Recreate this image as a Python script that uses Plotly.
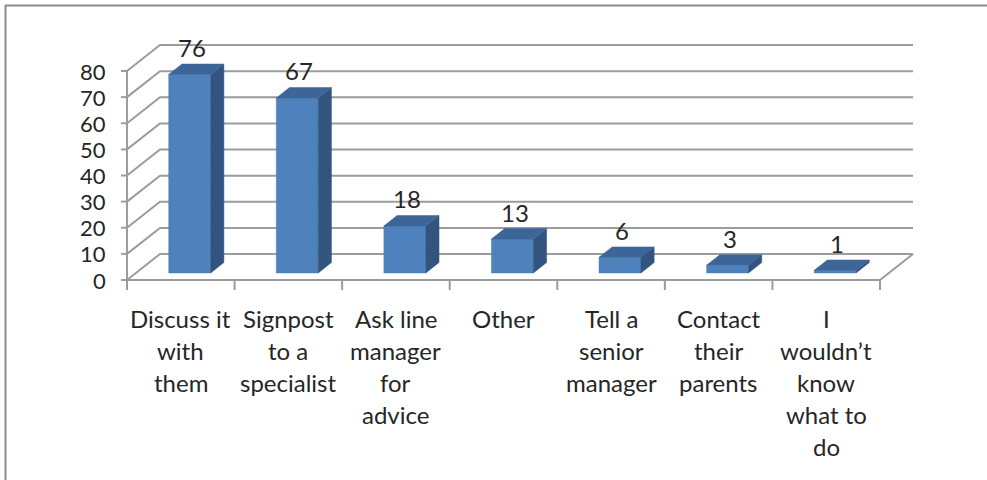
import plotly.graph_objects as go

# ---- data ----
categories = [
    ["Discuss it", "with", "them"],
    ["Signpost", "to a", "specialist"],
    ["Ask line", "manager", "for", "advice"],
    ["Other"],
    ["Tell a", "senior", "manager"],
    ["Contact", "their", "parents"],
    ["I", "wouldn\u2019t", "know", "what to", "do"],
]
values = [76, 67, 18, 13, 6, 3, 1]
y_ticks = [0, 10, 20, 30, 40, 50, 60, 70, 80]

# ---- geometry / style ----
W, H = 987, 480
PX_X0, PX_X1 = 127, 880        # pixel x of category -0.5 and n-0.5
PX_Y0, PX_Y80 = 280, 71        # pixel y of 0 and 80 (front plane)
n = len(values)
sx = (PX_X1 - PX_X0) / n
sy = (PX_Y0 - PX_Y80) / 80.0
x_lo = -0.5 - PX_X0 / sx
x_hi = -0.5 + (W - PX_X0) / sx
y_hi = PX_Y0 / sy
y_lo = -(H - PX_Y0) / sy

DX = 33 / sx          # depth offset in category units
DY = 26 / sy          # depth offset in value units
F0, F1 = 0.27, 0.67   # bar depth fractions
BW = 0.39             # bar width
GRID = "#9C9C9C"
FRONT = "#4F81BD"
SIDE = "#32547F"
TOP = "#3C6598"
FONT = "Lato"
FS = 24
FS_TICK = 22
TXT = "#262626"

fig = go.Figure()

def line(xs, ys, color=GRID, width=2):
    fig.add_trace(go.Scatter(x=xs, y=ys, mode="lines", line=dict(color=color, width=width),
                             hoverinfo="skip", showlegend=False))

def poly(xs, ys, color):
    fig.add_trace(go.Scatter(x=xs + [xs[0]], y=ys + [ys[0]], mode="lines", fill="toself",
                             fillcolor=color, line=dict(color=color, width=0.5),
                             hoverinfo="skip", showlegend=False))

left = -0.5
right = n - 0.5
# gridlines (left wall + back wall)
for v in y_ticks:
    line([left, left + DX, right + DX], [v, v + DY, v + DY])
# floor
line([left, right, right + DX], [0, 0, DY])
# front vertical axis
line([left, left], [0, 80])
# y ticks
for v in y_ticks:
    line([left - 6 / sx, left], [v, v])
# x ticks
for i in range(n + 1):
    xb = left + i
    line([xb, xb], [0, -10 / sy])

# bars
for i, v in enumerate(values):
    xl = i - BW / 2 + F0 * DX
    xr = i + BW / 2 + F0 * DX
    yb = F0 * DY
    yt = v + F0 * DY
    ddx = (F1 - F0) * DX
    ddy = (F1 - F0) * DY
    poly([xl, xr, xr, xl], [yb, yb, yt, yt], FRONT)
    poly([xr, xr + ddx, xr + ddx, xr], [yb, yb + ddy, yt + ddy, yt], SIDE)
    poly([xl, xr, xr + ddx, xl + ddx], [yt, yt, yt + ddy, yt + ddy], TOP)

annotations = []
# data labels
for i, v in enumerate(values):
    annotations.append(dict(x=i + F0 * DX + 0.02, y=v + F0 * DY + 27 / sy, text=str(v),
                            showarrow=False, xanchor="center", yanchor="middle",
                            font=dict(family=FONT, size=FS, color=TXT)))
# y tick labels
for v in y_ticks:
    annotations.append(dict(x=left - 19 / sx, y=v, text=str(v), showarrow=False,
                            xanchor="right", yanchor="middle",
                            font=dict(family=FONT, size=FS_TICK, color=TXT)))
# category labels (one annotation per line)
for i, lines in enumerate(categories):
    for k, t in enumerate(lines):
        annotations.append(dict(x=i, y=-(38 + 32 * k) / sy, text=t, showarrow=False,
                                xanchor="center", yanchor="middle",
                                font=dict(family=FONT, size=FS, color=TXT)))

# outer border (left + top)
shapes = [
    dict(type="line", xref="paper", yref="paper", x0=5.5 / W, x1=5.5 / W, y0=0, y1=1 - 5 / H,
         line=dict(color="#8C8C8C", width=2)),
    dict(type="line", xref="paper", yref="paper", x0=5 / W, x1=1, y0=1 - 5.5 / H, y1=1 - 5.5 / H,
         line=dict(color="#8C8C8C", width=2)),
]

fig.update_layout(
    width=W, height=H, autosize=False,
    margin=dict(l=0, r=0, t=0, b=0),
    paper_bgcolor="white", plot_bgcolor="white",
    xaxis=dict(range=[x_lo, x_hi], visible=False, fixedrange=True),
    yaxis=dict(range=[y_lo, y_hi], visible=False, fixedrange=True),
    annotations=annotations, shapes=shapes, showlegend=False,
)

fig.write_html("out.html", config={"displayModeBar": False},
               post_script="document.body.style.margin='0';document.body.style.overflow='hidden';")
